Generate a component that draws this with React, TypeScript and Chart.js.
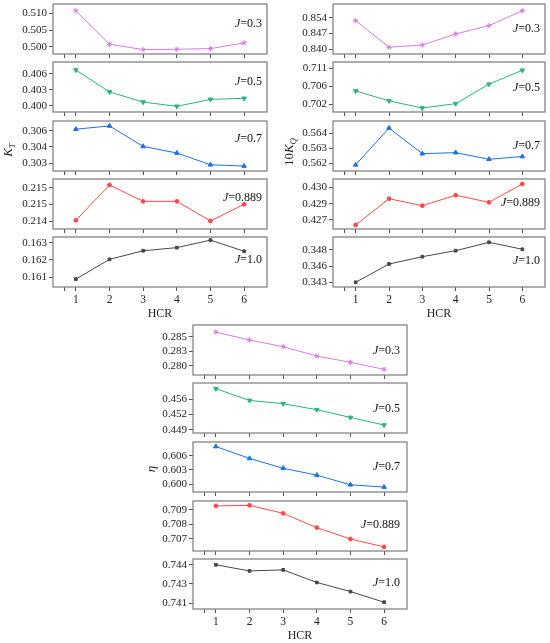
import { useEffect, useRef } from "react"
import { Chart, registerables } from "chart.js"

Chart.register(...registerables)

const FONT = "'Liberation Serif', 'Times New Roman', serif"

// HCR categories and the J value of each row
const hcr = [1, 2, 3, 4, 5, 6]
const xTicks = [0.67, 1, 2, 3, 4, 5, 6]
const jLabels = ["0.3", "0.5", "0.7", "0.889", "1.0"]

// K_T
const ktJ03 = [0.5107, 0.5008, 0.4992, 0.4993, 0.4995, 0.5012]
const ktJ05 = [0.4067, 0.4026, 0.4007, 0.3999, 0.4012, 0.4014]
const ktJ07 = [0.30615, 0.30645, 0.30455, 0.30394, 0.30285, 0.30273]
const ktJ0889 = [0.21452, 0.21558, 0.21509, 0.21509, 0.2145, 0.215]
const ktJ10 = [0.16088, 0.16203, 0.16253, 0.16271, 0.16315, 0.1625]
const ktTicks = [
  [0.5, 0.505, 0.51],
  [0.4, 0.403, 0.406],
  [0.303, 0.3045, 0.306],
  [0.2145, 0.215, 0.2155],
  [0.161, 0.162, 0.163],
]
const ktTickLabels = [
  ["0.500", "0.505", "0.510"],
  ["0.400", "0.403", "0.406"],
  ["0.303", "0.304", "0.306"],
  ["0.214", "0.215", "0.215"],
  ["0.161", "0.162", "0.163"],
]
const ktRanges = [
  [0.4979, 0.5127],
  [0.39884, 0.4082],
  [0.30227, 0.30691],
  [0.21426, 0.21576],
  [0.16042, 0.16333],
]

// 10K_Q
const kqJ03 = [0.8527, 0.8409, 0.8419, 0.8468, 0.8505, 0.8571]
const kqJ05 = [0.7048, 0.7023, 0.7005, 0.7016, 0.7065, 0.71]
const kqJ07 = [0.56139, 0.56383, 0.56213, 0.5622, 0.56176, 0.56194]
const kqJ0889 = [0.42654, 0.42895, 0.42831, 0.42927, 0.42862, 0.4303]
const kqJ10 = [0.343, 0.34583, 0.34696, 0.34789, 0.34919, 0.34811]
const kqTicks = [
  [0.84, 0.847, 0.854],
  [0.7015, 0.706, 0.7105],
  [0.5615, 0.5625, 0.5635],
  [0.427, 0.4285, 0.43],
  [0.343, 0.3455, 0.348],
]
const kqTickLabels = [
  ["0.840", "0.847", "0.854"],
  ["0.702", "0.706", "0.711"],
  ["0.562", "0.563", "0.564"],
  ["0.427", "0.429", "0.430"],
  ["0.343", "0.346", "0.348"],
]
const kqRanges = [
  [0.8379, 0.8601],
  [0.6995, 0.71208],
  [0.56098, 0.5643],
  [0.42617, 0.43076],
  [0.34227, 0.35001],
]

// eta
const etaJ03 = [0.28581, 0.28443, 0.28328, 0.28167, 0.28059, 0.27938]
const etaJ05 = [0.45835, 0.45568, 0.45493, 0.45356, 0.4518, 0.45007]
const etaJ07 = [0.60797, 0.60545, 0.60336, 0.6019, 0.59985, 0.59937]
const etaJ0889 = [0.70928, 0.70932, 0.70877, 0.70778, 0.707, 0.70645]
const etaJ10 = [0.744, 0.74352, 0.7436, 0.74262, 0.74191, 0.74108]
const etaTicks = [
  [0.28, 0.2825, 0.285],
  [0.449, 0.4525, 0.456],
  [0.6, 0.603, 0.606],
  [0.707, 0.708, 0.709],
  [0.741, 0.7425, 0.744],
]
const etaTickLabels = [
  ["0.280", "0.283", "0.285"],
  ["0.449", "0.452", "0.456"],
  ["0.600", "0.603", "0.606"],
  ["0.707", "0.708", "0.709"],
  ["0.741", "0.743", "0.744"],
]
const etaRanges = [
  [0.2784, 0.28702],
  [0.44825, 0.45965],
  [0.59832, 0.60894],
  [0.70617, 0.70962],
  [0.74055, 0.74445],
]

const colors = ["#d67be8", "#29b47b", "#1c6fe6", "#ff4848", "#474747"]
const markers = ["star", "triangle", "triangle", "circle", "rect"]
const rotations = [0, 180, 0, 0, 0]
const radii = [2.6, 2.6, 2.6, 1.9, 1.9]

const panels = [
  {
    series: [ktJ03, ktJ05, ktJ07, ktJ0889, ktJ10],
    ticks: ktTicks, tickLabels: ktTickLabels, ranges: ktRanges,
    boxLeft: 53, boxW: 214, tops: [4, 62, 121, 179, 237],
    jRight: 5, jDy: [20, 20, 17.5, 18.7, 23],
  },
  {
    series: [kqJ03, kqJ05, kqJ07, kqJ0889, kqJ10],
    ticks: kqTicks, tickLabels: kqTickLabels, ranges: kqRanges,
    boxLeft: 333, boxW: 212, tops: [4, 62, 121, 179, 237],
    jRight: 5, jDy: [25, 26, 25, 24, 23.7],
  },
  {
    series: [etaJ03, etaJ05, etaJ07, etaJ0889, etaJ10],
    ticks: etaTicks, tickLabels: etaTickLabels, ranges: etaRanges,
    boxLeft: 193, boxW: 214, tops: [325, 383, 442, 501, 559],
    jRight: 7, jDy: [26, 25.7, 25, 24, 24],
  },
]

const AXIS_W = 50
const PAD_TOP = 10
const PAD_RIGHT = 5
const BOX_H = 50

interface SubplotProps {
  left: number
  top: number
  boxW: number
  values: number[]
  row: number
  ticks: number[]
  tickLabels: string[]
  range: number[]
  last: boolean
  jRight: number
  jDy: number
}

function Subplot({ left, top, boxW, values, row, ticks, tickLabels, range, last, jRight, jDy }: SubplotProps) {
  const canvasRef = useRef<HTMLCanvasElement>(null)
  const xAxisH = last ? 34 : 10
  const width = AXIS_W + boxW + PAD_RIGHT
  const height = PAD_TOP + BOX_H + xAxisH

  useEffect(() => {
    if (!canvasRef.current) return
    const color = colors[row]
    const boxPlugin = {
      id: "box",
      afterDraw(chart: any) {
        const { ctx, chartArea: a } = chart
        ctx.save()
        ctx.strokeStyle = "#7a7a7a"
        ctx.lineWidth = 1.2
        ctx.strokeRect(a.left, a.top, a.right - a.left, a.bottom - a.top)
        // J = ... label
        const rest = "=" + jLabels[row]
        ctx.fillStyle = "#111"
        ctx.textBaseline = "middle"
        ctx.textAlign = "left"
        ctx.font = `12px ${FONT}`
        const wr = ctx.measureText(rest).width
        ctx.font = `italic 12px ${FONT}`
        const wj = ctx.measureText("J").width
        const x0 = a.right - jRight - wr - wj
        const y = a.top + jDy
        ctx.fillText("J", x0, y)
        ctx.font = `12px ${FONT}`
        ctx.fillText(rest, x0 + wj, y)
        ctx.restore()
      },
    }

    const chart = new Chart(canvasRef.current, {
      type: "line",
      data: {
        datasets: [
          {
            data: hcr.map((x, i) => ({ x, y: values[i] })),
            borderColor: color,
            backgroundColor: color,
            borderWidth: 1,
            pointStyle: markers[row] as any,
            pointRotation: rotations[row],
            pointRadius: radii[row],
            pointBorderWidth: 1,
            pointBackgroundColor: color,
            pointBorderColor: color,
            tension: 0,
          },
        ],
      },
      options: {
        responsive: false,
        animation: false,
        layout: { padding: { top: PAD_TOP, right: PAD_RIGHT, left: 0, bottom: 0 } },
        plugins: { legend: { display: false }, tooltip: { enabled: false } },
        scales: {
          x: {
            type: "linear",
            min: 0.32,
            max: 6.68,
            afterBuildTicks: (s: any) => {
              s.ticks = xTicks.map((v) => ({ value: v }))
            },
            afterFit: (s: any) => {
              s.height = xAxisH
            },
            grid: { display: true, drawOnChartArea: false, drawTicks: true, tickLength: 4, color: "#555" },
            border: { display: false },
            ticks: {
              display: last,
              autoSkip: false,
              maxRotation: 0,
              padding: 2,
              color: "#222",
              font: { family: FONT, size: 11.5 },
              callback: (v: any) => (v >= 1 ? String(v) : ""),
            },
            title: {
              display: last,
              text: "HCR",
              color: "#222",
              font: { family: FONT, size: 12 },
              padding: { top: 0, bottom: 0 },
            },
          },
          y: {
            type: "linear",
            min: range[0],
            max: range[1],
            afterBuildTicks: (s: any) => {
              s.ticks = ticks.map((v) => ({ value: v }))
            },
            afterFit: (s: any) => {
              s.width = AXIS_W
            },
            grid: { display: true, drawOnChartArea: false, drawTicks: true, tickLength: 4, color: "#555" },
            border: { display: false },
            ticks: {
              autoSkip: false,
              padding: 2,
              color: "#222",
              font: { family: FONT, size: 11 },
              callback: (_v: any, i: number) => tickLabels[i],
            },
          },
        },
      },
      plugins: [boxPlugin],
    })
    return () => chart.destroy()
  }, [values, row, ticks, tickLabels, range, last, jRight, jDy, xAxisH])

  return (
    <canvas
      ref={canvasRef}
      width={width}
      height={height}
      style={{ position: "absolute", left, top, width, height }}
    />
  )
}

const axisTitleStyle = (x: number, y: number): React.CSSProperties => ({
  position: "absolute",
  left: x,
  top: y,
  transform: "translate(-50%, -50%) rotate(-90deg)",
  fontFamily: FONT,
  fontSize: 13,
  color: "#222",
  whiteSpace: "nowrap",
  lineHeight: 1,
})

export default function App() {
  return (
    <div
      style={{
        position: "absolute",
        left: 0,
        top: 0,
        width: 550,
        height: 643,
        overflow: "hidden",
        background: "#fff",
      }}
    >
      {panels.map((p, pi) =>
        p.series.map((values, row) => (
          <Subplot
            key={`${pi}-${row}`}
            left={p.boxLeft - AXIS_W}
            top={p.tops[row] - PAD_TOP}
            boxW={p.boxW}
            values={values}
            row={row}
            ticks={p.ticks[row]}
            tickLabels={p.tickLabels[row]}
            range={p.ranges[row]}
            last={row === 4}
            jRight={p.jRight}
            jDy={p.jDy[row]}
          />
        ))
      )}
      <div style={axisTitleStyle(9, 150)}>
        <i>K</i>
        <sub style={{ fontSize: 9 }}>
          <i>T</i>
        </sub>
      </div>
      <div style={axisTitleStyle(290, 152)}>
        10<i>K</i>
        <sub style={{ fontSize: 9 }}>
          <i>Q</i>
        </sub>
      </div>
      <div style={axisTitleStyle(150, 469)}>
        <i>η</i>
      </div>
    </div>
  )
}
